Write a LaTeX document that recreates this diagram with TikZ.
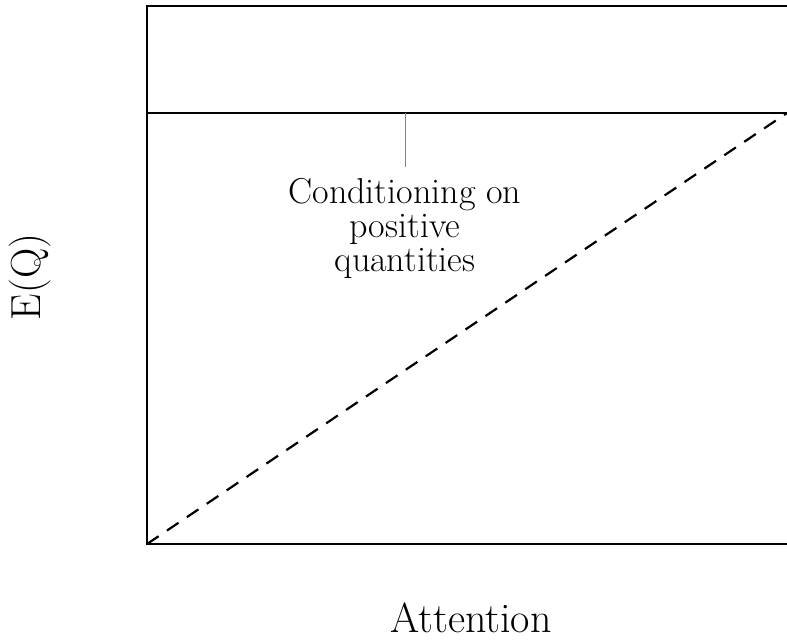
\documentclass[tikz,border=0pt]{standalone}
\begin{document}
\begin{tikzpicture}[x=1pt,y=-1pt,
  axislab/.style={font=\fontsize{42}{50}\selectfont, inner sep=0pt},
  annot/.style={font=\fontsize{36}{34}\selectfont, align=center, inner sep=0pt},
  frame/.style={line width=1.3pt},
  flat/.style={line width=2pt},
  diag/.style={line width=2.2pt, dash pattern=on 14pt off 10pt}]
\useasboundingbox (0,0) rectangle (787,641);
\coordinate (tr) at (790,6);
\coordinate (tl) at (147,6);
\coordinate (bl) at (147,544);
\coordinate (br) at (790,544);
\coordinate (hl) at (147,113);
\coordinate (hr) at (790,113);
\coordinate (dr) at (787,113);
\coordinate (tick) at (405,113);
\draw[frame] (tr) -- (tl) -- (bl) -- (br);
\draw[flat] (hl) -- (hr);
\draw[diag] (bl) -- (dr);
\node[annot, anchor=north] (lab) at (405,178) {Conditioning on\\positive\\quantities};
\draw[gray, line width=0.8pt] (tick) -- (405,167);
\node[axislab, rotate=90] (ylab) at (30,277) {E(Q)};
\node[axislab] (xlab) at (471,618) {Attention};
\end{tikzpicture}
\end{document}
